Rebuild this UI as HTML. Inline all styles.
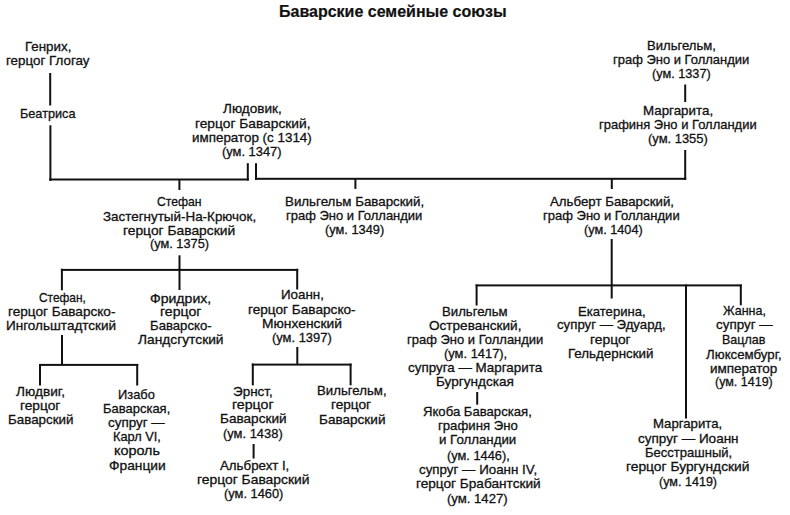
<!DOCTYPE html>
<html><head><meta charset="utf-8"><style>
html,body{margin:0;padding:0;background:#fff;}
body{width:790px;height:515px;position:relative;overflow:hidden;font-family:"Liberation Sans",sans-serif;color:#111;}
.t{position:absolute;font-size:13px;line-height:16px;white-space:nowrap;-webkit-text-stroke:0.3px #111;transform-origin:0 0;}
.h{position:absolute;font-weight:bold;font-size:16px;white-space:nowrap;-webkit-text-stroke:0.2px #111;}
svg{position:absolute;left:0;top:0;}
</style></head><body>
<div class="h" style="left:279px;top:3.1px;line-height:18px">Баварские семейные союзы</div>
<div class="t" style="left:24.87px;top:39.30px;transform:scaleX(1.0256)">Генрих,</div>
<div class="t" style="left:5.67px;top:53.30px;transform:scaleX(1.0288)">герцог Глогау</div>
<div class="t" style="left:20.22px;top:106.00px;transform:scaleX(0.9750)">Беатриса</div>
<div class="t" style="left:223.40px;top:101.40px;transform:scaleX(1.0429)">Людовик,</div>
<div class="t" style="left:194.64px;top:115.50px;transform:scaleX(1.0589)">герцог Баварский,</div>
<div class="t" style="left:192.37px;top:129.80px;transform:scaleX(1.0304)">император (с 1314)</div>
<div class="t" style="left:222.31px;top:144.10px;transform:scaleX(0.9915)">(ум. 1347)</div>
<div class="t" style="left:647.19px;top:38.10px;transform:scaleX(1.0060)">Вильгельм,</div>
<div class="t" style="left:613.00px;top:52.00px;transform:scaleX(0.9978)">граф Эно и Голландии</div>
<div class="t" style="left:652.22px;top:66.00px;transform:scaleX(0.9763)">(ум. 1337)</div>
<div class="t" style="left:643.37px;top:103.10px;transform:scaleX(1.0269)">Маргарита,</div>
<div class="t" style="left:599.20px;top:117.10px;transform:scaleX(0.9975)">графиня Эно и Голландии</div>
<div class="t" style="left:647.81px;top:131.00px;transform:scaleX(0.9949)">(ум. 1355)</div>
<div class="t" style="left:157.30px;top:194.20px;transform:scaleX(0.9383)">Стефан</div>
<div class="t" style="left:103.40px;top:208.60px;transform:scaleX(1.0318)">Застегнутый-На-Крючок,</div>
<div class="t" style="left:123.14px;top:222.60px;transform:scaleX(1.0635)">герцог Баварский</div>
<div class="t" style="left:149.62px;top:236.30px;transform:scaleX(0.9814)">(ум. 1375)</div>
<div class="t" style="left:285.17px;top:194.10px;transform:scaleX(1.0254)">Вильгельм Баварский,</div>
<div class="t" style="left:286.20px;top:208.20px;transform:scaleX(0.9985)">граф Эно и Голландии</div>
<div class="t" style="left:325.02px;top:222.20px;transform:scaleX(0.9847)">(ум. 1349)</div>
<div class="t" style="left:549.70px;top:193.50px;transform:scaleX(1.0215)">Альберт Баварский,</div>
<div class="t" style="left:542.70px;top:207.60px;transform:scaleX(1.0007)">граф Эно и Голландии</div>
<div class="t" style="left:583.72px;top:221.60px;transform:scaleX(0.9763)">(ум. 1404)</div>
<div class="t" style="left:38.70px;top:290.00px;transform:scaleX(0.9160)">Стефан,</div>
<div class="t" style="left:7.85px;top:303.80px;transform:scaleX(1.0465)">герцог Баварско-</div>
<div class="t" style="left:6.26px;top:318.10px;transform:scaleX(1.0404)">Ингольштадтский</div>
<div class="t" style="left:149.92px;top:290.50px;transform:scaleX(1.0818)">Фридрих,</div>
<div class="t" style="left:159.62px;top:304.10px;transform:scaleX(1.0838)">герцог</div>
<div class="t" style="left:149.59px;top:317.80px;transform:scaleX(1.0117)">Баварско-</div>
<div class="t" style="left:138.40px;top:332.10px;transform:scaleX(1.0588)">Ландсгутский</div>
<div class="t" style="left:280.97px;top:287.40px;transform:scaleX(1.0275)">Иоанн,</div>
<div class="t" style="left:247.55px;top:301.60px;transform:scaleX(1.0485)">герцог Баварско-</div>
<div class="t" style="left:261.64px;top:315.80px;transform:scaleX(1.0622)">Мюнхенский</div>
<div class="t" style="left:272.21px;top:329.50px;transform:scaleX(0.9932)">(ум. 1397)</div>
<div class="t" style="left:15.70px;top:384.10px;transform:scaleX(1.0522)">Людвиг,</div>
<div class="t" style="left:20.15px;top:398.00px;transform:scaleX(1.0541)">герцог</div>
<div class="t" style="left:7.87px;top:412.00px;transform:scaleX(1.0290)">Баварский</div>
<div class="t" style="left:118.01px;top:386.60px;transform:scaleX(0.9889)">Изабо</div>
<div class="t" style="left:103.20px;top:400.80px;transform:scaleX(0.9985)">Баварская,</div>
<div class="t" style="left:108.40px;top:415.00px;transform:scaleX(1.0327)">супруг —</div>
<div class="t" style="left:113.22px;top:429.00px;transform:scaleX(0.9830)">Карл VI,</div>
<div class="t" style="left:114.09px;top:443.10px;transform:scaleX(1.1050)">король</div>
<div class="t" style="left:108.64px;top:457.60px;transform:scaleX(1.0596)">Франции</div>
<div class="t" style="left:233.36px;top:383.80px;transform:scaleX(1.0351)">Эрнст,</div>
<div class="t" style="left:231.91px;top:397.40px;transform:scaleX(1.0892)">герцог</div>
<div class="t" style="left:220.15px;top:411.40px;transform:scaleX(1.0452)">Баварский</div>
<div class="t" style="left:223.21px;top:426.00px;transform:scaleX(0.9932)">(ум. 1438)</div>
<div class="t" style="left:219.50px;top:457.70px;transform:scaleX(1.0224)">Альбрехт I,</div>
<div class="t" style="left:197.03px;top:472.00px;transform:scaleX(1.0663)">герцог Баварский</div>
<div class="t" style="left:223.51px;top:486.10px;transform:scaleX(0.9881)">(ум. 1460)</div>
<div class="t" style="left:317.48px;top:383.00px;transform:scaleX(1.0164)">Вильгельм,</div>
<div class="t" style="left:331.15px;top:397.00px;transform:scaleX(1.0486)">герцог</div>
<div class="t" style="left:319.16px;top:411.60px;transform:scaleX(1.0435)">Баварский</div>
<div class="t" style="left:442.19px;top:303.90px;transform:scaleX(1.0127)">Вильгельм</div>
<div class="t" style="left:429.00px;top:318.00px;transform:scaleX(1.0443)">Остреванский,</div>
<div class="t" style="left:406.70px;top:331.60px;transform:scaleX(0.9985)">граф Эно и Голландии</div>
<div class="t" style="left:443.71px;top:346.10px;transform:scaleX(0.9919)">(ум. 1417),</div>
<div class="t" style="left:407.50px;top:360.40px;transform:scaleX(1.0305)">супруга — Маргарита</div>
<div class="t" style="left:435.65px;top:374.30px;transform:scaleX(1.0452)">Бургундская</div>
<div class="t" style="left:423.49px;top:404.40px;transform:scaleX(1.0094)">Якоба Баварская,</div>
<div class="t" style="left:437.69px;top:418.40px;transform:scaleX(1.0128)">графиня Эно</div>
<div class="t" style="left:439.38px;top:432.40px;transform:scaleX(1.0203)">и Голландии</div>
<div class="t" style="left:446.71px;top:447.80px;transform:scaleX(0.9855)">(ум. 1446),</div>
<div class="t" style="left:419.10px;top:461.90px;transform:scaleX(1.0263)">супруг — Иоанн IV,</div>
<div class="t" style="left:415.65px;top:476.10px;transform:scaleX(1.0487)">герцог Брабантский</div>
<div class="t" style="left:446.59px;top:490.60px;transform:scaleX(1.0085)">(ум. 1427)</div>
<div class="t" style="left:577.89px;top:303.60px;transform:scaleX(1.0077)">Екатерина,</div>
<div class="t" style="left:557.00px;top:317.40px;transform:scaleX(1.0170)">супруг — Эдуард,</div>
<div class="t" style="left:590.14px;top:331.60px;transform:scaleX(1.0649)">герцог</div>
<div class="t" style="left:568.17px;top:345.90px;transform:scaleX(1.0268)">Гельдернский</div>
<div class="t" style="left:722.70px;top:303.40px;transform:scaleX(0.9636)">Жанна,</div>
<div class="t" style="left:716.00px;top:317.20px;transform:scaleX(1.0309)">супруг —</div>
<div class="t" style="left:722.04px;top:331.60px;transform:scaleX(0.9614)">Вацлав</div>
<div class="t" style="left:706.40px;top:346.50px;transform:scaleX(1.0192)">Люксембург,</div>
<div class="t" style="left:710.16px;top:360.50px;transform:scaleX(1.0375)">император</div>
<div class="t" style="left:715.04px;top:374.40px;transform:scaleX(0.9610)">(ум. 1419)</div>
<div class="t" style="left:652.89px;top:416.30px;transform:scaleX(1.0134)">Маргарита,</div>
<div class="t" style="left:638.00px;top:430.70px;transform:scaleX(1.0396)">супруг — Иоанн</div>
<div class="t" style="left:644.60px;top:444.60px;transform:scaleX(1.0024)">Бесстрашный,</div>
<div class="t" style="left:626.14px;top:459.30px;transform:scaleX(1.0617)">герцог Бургундский</div>
<div class="t" style="left:659.23px;top:473.60px;transform:scaleX(0.9661)">(ум. 1419)</div>
<svg width="790" height="515" viewBox="0 0 790 515"><g fill="#111">
<rect x="49.2" y="73.0" width="2" height="32.5"/>
<rect x="49.4" y="125.3" width="2" height="55.6"/>
<rect x="246.8" y="163.2" width="2" height="17.3"/>
<rect x="255.0" y="163.2" width="2" height="16.7"/>
<rect x="684.2" y="150.0" width="2" height="29.9"/>
<rect x="684.2" y="84.5" width="2" height="17.5"/>
<rect x="178.4" y="179.0" width="2" height="11.0"/>
<rect x="354.4" y="178.0" width="2" height="10.9"/>
<rect x="610.8" y="178.0" width="2" height="11.0"/>
<rect x="178.5" y="255.3" width="2" height="34.7"/>
<rect x="60.9" y="268.8" width="2" height="21.5"/>
<rect x="296.2" y="268.8" width="2" height="20.7"/>
<rect x="61.0" y="335.0" width="2" height="30.0"/>
<rect x="39.0" y="364.0" width="2" height="21.5"/>
<rect x="136.2" y="364.0" width="2" height="21.5"/>
<rect x="296.3" y="347.0" width="2" height="18.0"/>
<rect x="251.8" y="363.6" width="2" height="21.7"/>
<rect x="349.6" y="363.6" width="2" height="21.7"/>
<rect x="252.6" y="444.0" width="2" height="14.5"/>
<rect x="610.7" y="239.0" width="2" height="59.5"/>
<rect x="475.6" y="284.5" width="2" height="21.0"/>
<rect x="739.8" y="284.5" width="2" height="20.8"/>
<rect x="685.0" y="284.5" width="2" height="134.0"/>
<rect x="476.2" y="392.0" width="2" height="12.7"/>
<rect x="49.2" y="178.5" width="199.6" height="2"/>
<rect x="255.0" y="177.8" width="431.2" height="2"/>
<rect x="60.9" y="268.9" width="237.3" height="2"/>
<rect x="39.0" y="363.9" width="99.2" height="2"/>
<rect x="251.8" y="363.6" width="99.8" height="2"/>
<rect x="475.6" y="284.4" width="266.2" height="2"/>
</g></svg>
</body></html>
